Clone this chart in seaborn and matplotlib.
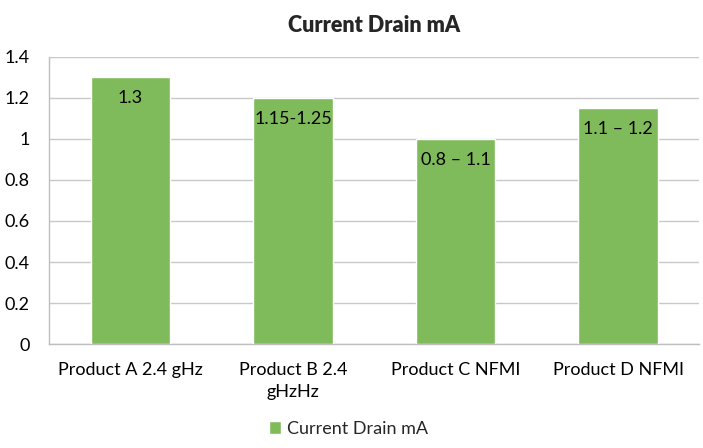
import numpy as np
import pandas as pd
import matplotlib.pyplot as plt
import seaborn as sns

# chart data
products = ['Product A 2.4 gHz', 'Product B 2.4\ngHzHz', 'Product C NFMI', 'Product D NFMI']
current = [1.3, 1.2, 1.0, 1.15]
bar_labels = ['1.3', '1.15-1.25', '0.8 \u2013 1.1', '1.1 \u2013 1.2']

data = pd.DataFrame({'product': products, 'current': current})

sns.set_style('white')
plt.rcParams['font.family'] = ['Lato', 'DejaVu Sans']

fig = plt.figure(figsize=(7.03, 4.48), dpi=100)
ax = fig.add_axes([0.07, 0.232, 0.925, 0.641])

green = '#80BB5B'
sns.barplot(data=data, x='product', y='current', color=green, width=0.49,
            saturation=1, label='Current Drain mA', ax=ax, zorder=3)

for i, (v, lab) in enumerate(zip(current, bar_labels)):
    ax.annotate(lab, (i, v), xytext=(0, -15), textcoords='offset points',
                ha='center', va='center', fontsize=13, color='black', zorder=4)

ax.set_ylim(0, 1.4)
ax.set_yticks(np.arange(0, 1.41, 0.2))
ax.set_yticklabels(['0', '0.2', '0.4', '0.6', '0.8', '1', '1.2', '1.4'])
ax.yaxis.grid(True, color='#C8C8C8', linewidth=1, zorder=0)
ax.set_xlabel('')
ax.set_ylabel('')
ax.tick_params(axis='both', labelsize=13, length=0, colors='black')
ax.tick_params(axis='x', pad=13)
ax.tick_params(axis='y', pad=14)
for t in ax.get_xticklabels():
    t.set_linespacing(1.45)
for s in ['top', 'right']:
    ax.spines[s].set_visible(False)
for s in ['left', 'bottom']:
    ax.spines[s].set_color('#BEBEBE')
    ax.spines[s].set_linewidth(1)

ax.set_title('Current Drain mA', fontsize=15.5, fontweight='heavy', pad=18)

ax.legend(loc='lower center', bbox_to_anchor=(0.46, -0.38), frameon=False,
          fontsize=13, handlelength=0.7, handleheight=0.7, handletextpad=0.3)

fig.savefig('out.png', dpi=100)
